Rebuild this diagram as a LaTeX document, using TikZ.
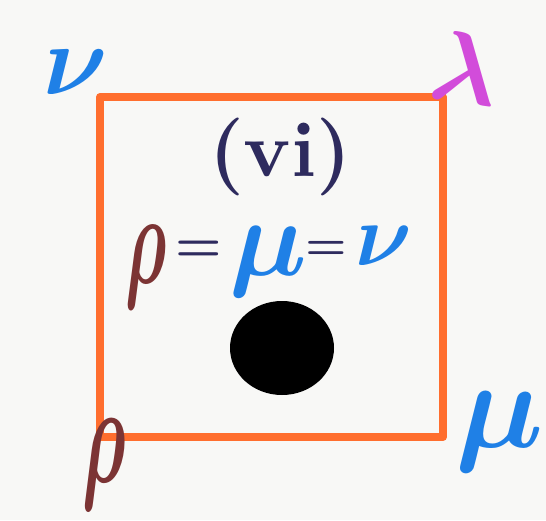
\documentclass[tikz,border=0pt]{standalone}
\definecolor{bgc}{HTML}{F8F8F6}
\definecolor{sq}{HTML}{FF6E2E}
\definecolor{blu}{HTML}{1F80E6}
\definecolor{mag}{HTML}{D24CDA}
\definecolor{brn}{HTML}{7C3434}
\definecolor{nav}{HTML}{2E2B5E}
\tikzset{
  lab/.style={inner sep=0pt, scale=#1/10, font=\boldmath},
  edge/.style={draw=sq, line width=8pt, line cap=round, line join=round},
}
\begin{document}
\begin{tikzpicture}[x=1pt,y=-1pt]
\fill[bgc] (0,0) rectangle (546,520);
\useasboundingbox (0,0) rectangle (546,520);
\coordinate (tl) at (100,97);
\coordinate (tr) at (443,97);
\coordinate (br) at (443,437);
\coordinate (bl) at (100,437);
\draw[edge] (tl) -- (tr) -- (br) -- (bl) -- cycle;
\node[lab=100, text=blu] (nu) at (76,72) {$\nu$};
\node[lab=100, text=mag, rotate=-8] (la) at (466,68) {$\lambda$};
\node[lab=95, text=brn, xscale=0.75, yscale=1.5] (rho) at (104,465) {$\rho$};
\node[lab=125, text=blu] (mu) at (500,432) {$\mu$};
\node[lab=78, text=nav, font=\bfseries] (vi) at (280,157) {(vi)};
\node[lab=90, text=brn, xscale=0.75, yscale=1.45] (r2) at (146,267) {$\rho$};
\node[lab=52, text=nav] (e1) at (199,251) {$=$};
\node[lab=110, text=blu] (m2) at (268,262) {$\mu$};
\node[lab=46, text=nav] (e2) at (326,250) {$=$};
\node[lab=88, text=blu] (n2) at (384,246) {$\nu$};
\fill[black] (282,348) ellipse [x radius=52, y radius=47];
\end{tikzpicture}
\end{document}
